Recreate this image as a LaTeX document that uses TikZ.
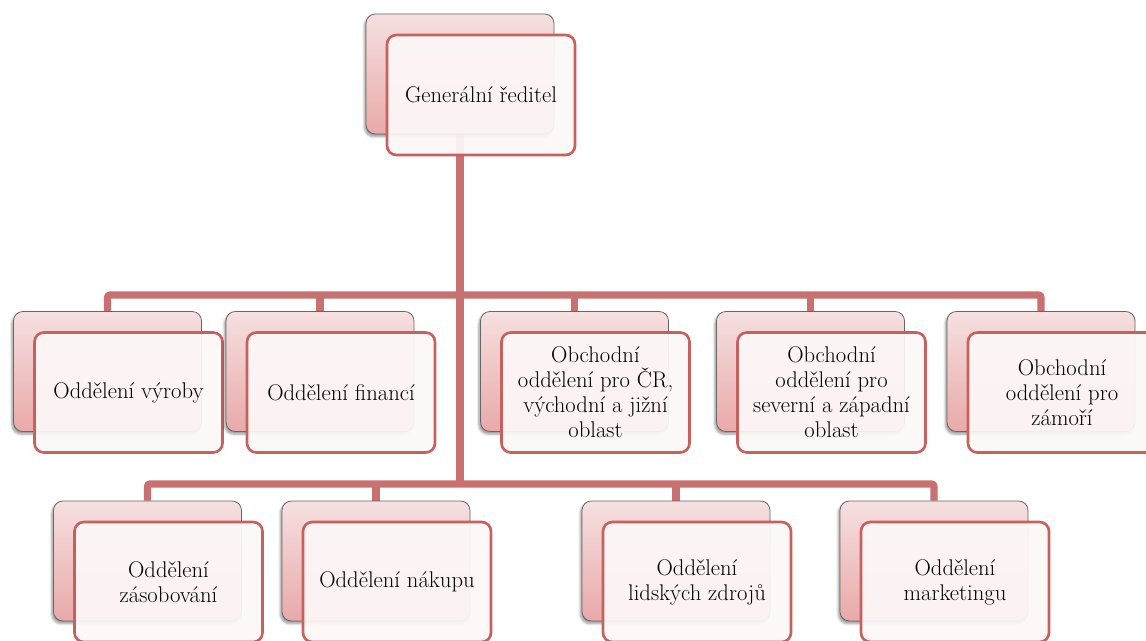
\documentclass[tikz,border=0pt]{standalone}
\usepackage{fontspec}
\usetikzlibrary{shadows.blur,backgrounds}
\definecolor{linkred}{HTML}{C97070}
\definecolor{boxred}{HTML}{C8605E}
\definecolor{pinktop}{HTML}{F6E0E0}
\definecolor{pinkbot}{HTML}{E9A9A9}
\definecolor{paper}{HTML}{FDF8F8}
\begin{document}
\begin{tikzpicture}[x=0.75pt,y=-0.75pt,
  backbox/.style={rectangle,rounded corners=7pt,draw=black!60,line width=0.6pt,
    top color=pinktop,bottom color=pinkbot,minimum width=141pt,minimum height=90pt,
    blur shadow={shadow xshift=-1.2pt,shadow yshift=-2pt,shadow blur steps=5}},
  frontbox/.style={rectangle,rounded corners=7pt,draw=boxred,line width=2pt,
    fill=paper,fill opacity=0.93,text opacity=1,minimum width=141pt,minimum height=90pt,
    align=center,font=\rmfamily\fontsize{17}{18.75}\selectfont},
  conn/.style={draw=linkred,line width=5.5pt,rounded corners=2pt}]
\useasboundingbox (0,0) rectangle (1146,641);

\node[backbox] (genb) at (460,74) {};
\node[frontbox] (gen) at (481,95) {Generální ředitel};

\node[backbox] (vyrb) at (107.5,371.5) {};
\node[frontbox] (vyr) at (128.5,392.5) {Oddělení výroby};
\node[backbox] (finb) at (320,371.5) {};
\node[frontbox] (fin) at (341,392.5) {Oddělení financí};
\node[backbox] (crb) at (574.5,371.5) {};
\node[frontbox] (cr) at (595.5,392.5) {Obchodní\\oddělení pro ČR,\\východní a jižní\\oblast};
\node[backbox] (szb) at (810.5,371.5) {};
\node[frontbox] (sz) at (831.5,392.5) {Obchodní\\oddělení pro\\severní a západní\\oblast};
\node[backbox] (zamb) at (1041,371.5) {};
\node[frontbox] (zam) at (1062,392.5) {Obchodní\\oddělení pro\\zámoří};

\node[backbox] (zasb) at (147.5,561) {};
\node[frontbox] (zas) at (168.5,582) {Oddělení\\zásobování};
\node[backbox] (nakb) at (376,561) {};
\node[frontbox] (nak) at (397,582) {Oddělení nákupu};
\node[backbox] (lzb) at (676,561) {};
\node[frontbox] (lz) at (697,582) {Oddělení\\lidských zdrojů};
\node[backbox] (mktb) at (934,561) {};
\node[frontbox] (mkt) at (955,582) {Oddělení\\marketingu};

\begin{scope}[on background layer]
\coordinate (hub1) at (460,295);
\coordinate (hub2) at (460,484);
\draw[conn] (genb.south) -- (hub2);
\draw[conn] (vyrb.north) |- (hub1) -| (zamb.north);
\draw[conn] (finb.north) -- (finb.north |- hub1);
\draw[conn] (crb.north) -- (crb.north |- hub1);
\draw[conn] (szb.north) -- (szb.north |- hub1);
\draw[conn] (zasb.north) |- (hub2) -| (mktb.north);
\draw[conn] (nakb.north) -- (nakb.north |- hub2);
\draw[conn] (lzb.north) -- (lzb.north |- hub2);
\end{scope}
\end{tikzpicture}
\end{document}
